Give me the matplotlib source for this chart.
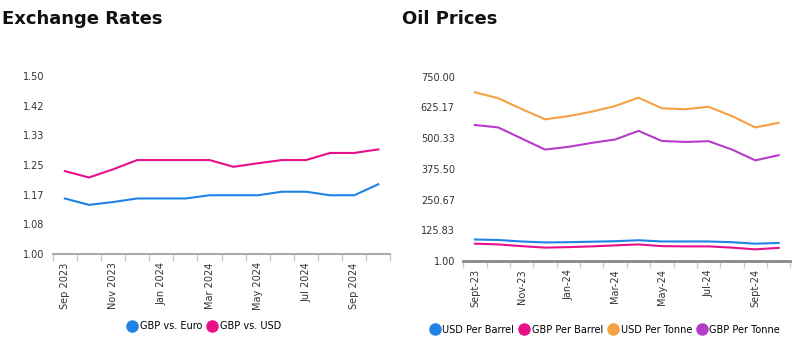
import numpy as np
import matplotlib
matplotlib.use("Agg")
import matplotlib.pyplot as plt

# exchange rates, monthly Sep 2023 - Oct 2024
fx_labels = ["Sep 2023", "", "Nov 2023", "", "Jan 2024", "", "Mar 2024", "",
             "May 2024", "", "Jul 2024", "", "Sep 2024", ""]
gbp_euro = [1.156, 1.138, 1.146, 1.156, 1.156, 1.156, 1.165, 1.165,
            1.165, 1.175, 1.175, 1.165, 1.165, 1.196]
gbp_usd = [1.233, 1.215, 1.238, 1.264, 1.264, 1.264, 1.264, 1.245,
           1.255, 1.264, 1.264, 1.284, 1.284, 1.294]
fx_ticks = [1.00, 1.0833, 1.1667, 1.25, 1.3333, 1.4167, 1.50]

# oil prices, monthly Sept-23 - Oct-24
oil_labels = ["Sept-23", "", "Nov-23", "", "Jan-24", "", "Mar-24", "",
              "May-24", "", "Jul-24", "", "Sept-24", ""]
usd_barrel = [88, 86, 80, 76, 77, 79, 81, 85, 80, 80, 80, 77, 71, 74]
gbp_barrel = [71, 68, 61, 55, 57, 60, 64, 68, 61, 60, 60, 55, 48, 54]
usd_tonne = [687, 663, 619, 577, 590, 608, 631, 665, 622, 618, 628, 590, 544, 563]
gbp_tonne = [554, 544, 499, 454, 465, 481, 495, 530, 489, 485, 488, 454, 410, 431]
oil_ticks = [1.00, 125.83, 250.67, 375.50, 500.33, 625.17, 750.00]

blue = "#1f83e6"
pink = "#e8108a"
orange = "#f5a142"
purple = "#b53cc8"
txt = "#333333"

fig = plt.figure(figsize=(8, 3.46), dpi=100)


def style(ax, labels, ticks, fmt, axcol, axw):
    n = len(labels)
    x = np.arange(n)
    ax.set_xlim(-0.5, n - 0.5)
    ax.set_ylim(ticks[0], ticks[-1])
    for s in ["top", "right", "left"]:
        ax.spines[s].set_visible(False)
    ax.spines["bottom"].set_color(axcol)
    ax.spines["bottom"].set_linewidth(axw)
    ax.set_yticks(ticks)
    ax.set_yticklabels([fmt % t for t in ticks], fontsize=7, color=txt)
    ax.tick_params(axis="y", length=0, pad=6)
    ax.set_xticks(x)
    ax.set_xticklabels(labels, rotation=90, fontsize=7, color=txt)
    ax.tick_params(axis="x", length=0, pad=6)
    ax.set_xticks(np.arange(n + 1) - 0.5, minor=True)
    ax.tick_params(axis="x", which="minor", length=5, color="#cccccc", width=1)
    return x


ax1 = fig.add_axes([0.066, 0.266, 0.422, 0.514])
x = style(ax1, fx_labels, fx_ticks, "%.2f", "#aaaaaa", 1.5)
ax1.plot(x, gbp_euro, color=blue, lw=1.5, label="GBP vs. Euro")
ax1.plot(x, gbp_usd, color=pink, lw=1.5, label="GBP vs. USD")
ax1.legend(loc="upper center", bbox_to_anchor=(0.45, -0.33), ncol=2, frameon=False,
           fontsize=7, handlelength=0.8, handletextpad=0.4, columnspacing=0.6)
fig.text(0.003, 0.945, "Exchange Rates", fontsize=13, fontweight="bold", va="center",
         color="#111111")

ax2 = fig.add_axes([0.579, 0.246, 0.409, 0.532])
x = style(ax2, oil_labels, oil_ticks, "%.2f", "#888888", 2)
ax2.plot(x, usd_barrel, color=blue, lw=1.5, label="USD Per Barrel")
ax2.plot(x, gbp_barrel, color=pink, lw=1.5, label="GBP Per Barrel")
ax2.plot(x, usd_tonne, color=orange, lw=1.5, label="USD Per Tonne")
ax2.plot(x, gbp_tonne, color=purple, lw=1.5, label="GBP Per Tonne")
ax2.legend(loc="upper center", bbox_to_anchor=(0.435, -0.30), ncol=4, frameon=False,
           fontsize=7, handlelength=0.8, handletextpad=0.4, columnspacing=0.6)
fig.text(0.503, 0.945, "Oil Prices", fontsize=13, fontweight="bold", va="center",
         color="#111111")

# round legend markers instead of lines
for ax in (ax1, ax2):
    leg = ax.get_legend()
    for h in leg.legend_handles:
        h.set_linestyle("")
        h.set_marker("o")
        h.set_markersize(8)

fig.savefig("out.png", dpi=100)
